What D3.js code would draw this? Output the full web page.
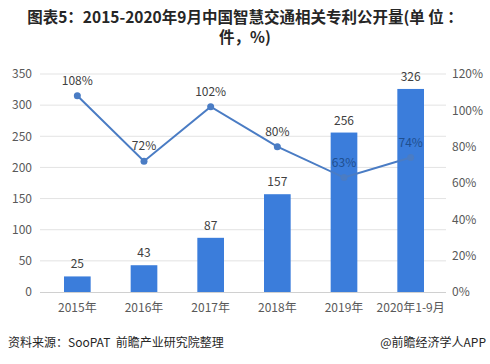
<!DOCTYPE html>
<html><head><meta charset="utf-8">
<script src="https://cdn.jsdelivr.net/npm/d3@7/dist/d3.min.js"></script>
<style>body{margin:0;background:#fff;}svg{display:block;}</style>
</head><body>
<script>
const categories = ["2015年","2016年","2017年","2018年","2019年","2020年1-9月"];
const patents = [25,43,87,157,256,326];
const growth = [108,72,102,80,63,74];
const leftTicks = [0,50,100,150,200,250,300,350];
const rightTicks = [0,20,40,60,80,100,120];

const W=490,H=364;
const svg=d3.select("body").append("svg").attr("width",W).attr("height",H);
const font="'Microsoft YaHei','Noto Sans CJK SC',sans-serif";
const m={left:44,right:46,top:74,bottom:72};
const x=d3.scaleBand().domain(categories).range([m.left,W-m.right]).paddingInner(0.6).paddingOuter(0.3);
const xp=d3.scalePoint().domain(categories).range([m.left,W-m.right]).padding(0.5);
const y=d3.scaleLinear().domain([0,350]).range([H-m.bottom,m.top]);
const y2=d3.scaleLinear().domain([0,120]).range([H-m.bottom,m.top]);

// title
svg.append("text").attr("x",W/2).attr("y",23).attr("text-anchor","middle")
 .style("font-family",font).style("font-weight","bold").style("font-size","15.5px").attr("fill","#262626")
 .style("white-space","pre").text("图表5：2015-2020年9月中国智慧交通相关专利公开量(单 位 ：");
svg.append("text").attr("x",W/2).attr("y",43).attr("text-anchor","middle")
 .style("font-family",font).style("font-weight","bold").style("font-size","15.5px").attr("fill","#262626")
 .text("件，%)");

// gridlines
svg.append("g").selectAll("line").data(leftTicks.slice(1)).join("line")
 .attr("x1",40).attr("x2",W-m.right+2).attr("y1",d=>y(d)).attr("y2",d=>y(d))
 .attr("stroke","#e3e3e3").attr("stroke-width",1);

// left axis
const la=svg.append("g").attr("transform",`translate(${m.left-12},0)`)
 .call(d3.axisLeft(y).tickValues(leftTicks).tickSize(0).tickPadding(0));
la.select(".domain").remove();
la.selectAll("text").style("font-family",font).style("font-size","12px").attr("fill","#595959");

// right axis
const ra=svg.append("g").attr("transform",`translate(${W-m.right+8},0)`)
 .call(d3.axisRight(y2).tickValues(rightTicks).tickFormat(d=>d+"%").tickSize(0).tickPadding(0));
ra.select(".domain").remove();
ra.selectAll("text").style("font-family",font).style("font-size","12px").attr("fill","#595959");

// bars
svg.append("g").selectAll("rect").data(patents).join("rect")
 .attr("x",(d,i)=>x(categories[i])).attr("width",x.bandwidth())
 .attr("y",d=>y(d)).attr("height",d=>y(0)-y(d)).attr("fill","#3b7ddb");

// baseline
svg.append("line").attr("x1",40).attr("x2",W-m.right+2).attr("y1",y(0)+0.5).attr("y2",y(0)+0.5)
 .attr("stroke","#d0d0d0");

// x labels
svg.append("g").selectAll("text").data(categories).join("text")
 .attr("x",d=>xp(d)).attr("y",y(0)+20).attr("text-anchor","middle")
 .style("font-family",font).style("font-size","12px").attr("fill","#595959").text(d=>d);

// bar labels
svg.append("g").selectAll("text").data(patents).join("text")
 .attr("x",(d,i)=>xp(categories[i])).attr("y",d=>y(d)-8).attr("text-anchor","middle")
 .style("font-family",font).style("font-size","12px").attr("fill","#404040").text(d=>d);

// line
const line=d3.line().x((d,i)=>xp(categories[i])).y(d=>y2(d));
svg.append("path").datum(growth).attr("d",line).attr("fill","none").attr("stroke","#4a7cc4").attr("stroke-width",2);
svg.append("g").selectAll("circle").data(growth).join("circle")
 .attr("cx",(d,i)=>xp(categories[i])).attr("cy",d=>y2(d)).attr("r",3.5).attr("fill","#4a7cc4");
svg.append("g").selectAll("text").data(growth).join("text")
 .attr("x",(d,i)=>xp(categories[i])).attr("y",d=>y2(d)-11).attr("text-anchor","middle")
 .style("font-family",font).style("font-size","12px").attr("fill",(d,i)=>i>=4?"#1f4f8f":"#404040").text(d=>d+"%");

// footer
svg.append("text").attr("x",8).attr("y",347).style("font-family",font).style("font-size","12px").attr("fill","#262626")
 .style("white-space","pre").text("资料来源：SooPAT  前瞻产业研究院整理");
svg.append("text").attr("x",486).attr("y",347).attr("text-anchor","end").style("font-family",font).style("font-size","12px").attr("fill","#262626")
 .text("@前瞻经济学人APP");
</script>
</body></html>
